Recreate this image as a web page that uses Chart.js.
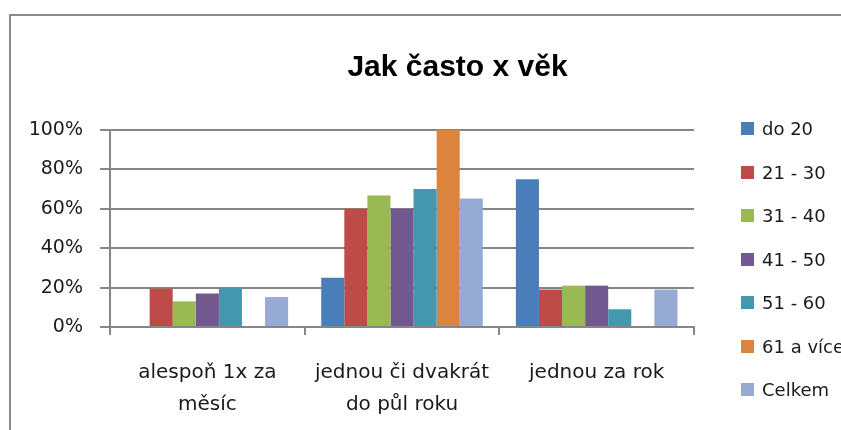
<!DOCTYPE html>
<html>
<head>
<meta charset="utf-8">
<script src="https://cdn.jsdelivr.net/npm/chart.js@4.4.0/dist/chart.umd.min.js"></script>
<style>
  body { margin: 0; width: 841px; height: 430px; overflow: hidden; background: #fff; position: relative; }
  #frame { position: absolute; left: 9px; top: 14px; width: 900px; height: 500px;
           border-left: 2px solid #8a8a8a; border-top: 2px solid #8a8a8a; }
  #graf { position: absolute; left: 0; top: 0; }
  #legenda { position: absolute; left: 741px; top: 107px; font-family: "DejaVu Sans"; font-size: 18px; color: #1a1a1a; }
  .pol { height: 43.5px; display: flex; align-items: center; white-space: nowrap; }
  .ctv { width: 13px; height: 13px; margin-right: 8px; }
</style>
</head>
<body>
<div id="frame"></div>
<canvas id="graf" width="906" height="430"></canvas>
<div id="legenda"></div>
<script>
// ---- data ----
var kategorie = [["alespoň 1x za", "měsíc"], ["jednou či dvakrát", "do půl roku"], "jednou za rok"];
var skupiny = ["do 20", "21 - 30", "31 - 40", "41 - 50", "51 - 60", "61 a více", "Celkem"];

var do20   = [0, 25, 75];
var v21_30 = [19.5, 60, 19];
var v31_40 = [13, 66.7, 21];
var v41_50 = [17, 60, 21];
var v51_60 = [20, 70, 9];
var v61    = [0, 100, 0];
var celkem = [15.2, 65.2, 19];

var osaY = [0, 20, 40, 60, 80, 100];

var barvy = ["#4a7ebb", "#be4b48", "#98b954", "#71588f", "#4398ae", "#db843d", "#96aad3"];
var hodnoty = [do20, v21_30, v31_40, v41_50, v51_60, v61, celkem];

var sady = [];
for (var i = 0; i < skupiny.length; i++) {
  sady.push({
    label: skupiny[i],
    data: hodnoty[i],
    backgroundColor: barvy[i],
    borderWidth: 0,
    yAxisID: "y",
    barPercentage: 1,
    categoryPercentage: 0.83
  });
}

var sedy = "#868686";

var graf = new Chart(document.getElementById("graf"), {
  type: "bar",
  data: { labels: kategorie, datasets: sady },
  options: {
    responsive: false,
    devicePixelRatio: 1,
    animation: false,
    layout: { padding: { left: 9, top: 14, right: 0, bottom: 0 } },
    plugins: {
      legend: { display: false },
      tooltip: { enabled: false },
      title: {
        display: true,
        text: "Jak často x věk",
        color: "#000",
        font: { family: "Liberation Sans", size: 30, weight: "bold" },
        padding: { top: 36, bottom: 44 }
      }
    },
    scales: {
      x: {
        grid: { offset: true, drawOnChartArea: false, color: sedy, lineWidth: 2, tickLength: 8 },
        border: { color: sedy, width: 2 },
        ticks: {
          color: "#1a1a1a",
          padding: 22,
          maxRotation: 0,
          autoSkip: false,
          font: { family: "DejaVu Sans", size: 20, lineHeight: "32px" }
        },
        afterFit: function (s) { s.height = 103; }
      },
      y: {
        min: 0,
        max: 100,
        afterBuildTicks: function (s) { s.ticks = osaY.map(function (v) { return { value: v }; }); },
        grid: { color: sedy, lineWidth: 2, tickLength: 10 },
        border: { color: sedy, width: 2 },
        ticks: {
          color: "#1a1a1a",
          padding: 17,
          font: { family: "DejaVu Sans", size: 19 },
          callback: function (v) { return v + "%"; }
        },
        afterFit: function (s) { s.width = 101; }
      },
      // prazdna osa vpravo, drzi misto pro legendu
      pad: {
        type: "linear",
        position: "right",
        grid: { display: false },
        border: { display: false },
        ticks: { display: false },
        afterFit: function (s) { s.width = 212; }
      }
    }
  }
});

// legenda v html
var leg = document.getElementById("legenda");
graf.data.datasets.forEach(function (d) {
  var p = document.createElement("div");
  p.className = "pol";
  var c = document.createElement("span");
  c.className = "ctv";
  c.style.background = d.backgroundColor;
  p.appendChild(c);
  p.appendChild(document.createTextNode(d.label));
  leg.appendChild(p);
});
</script>
</body>
</html>
